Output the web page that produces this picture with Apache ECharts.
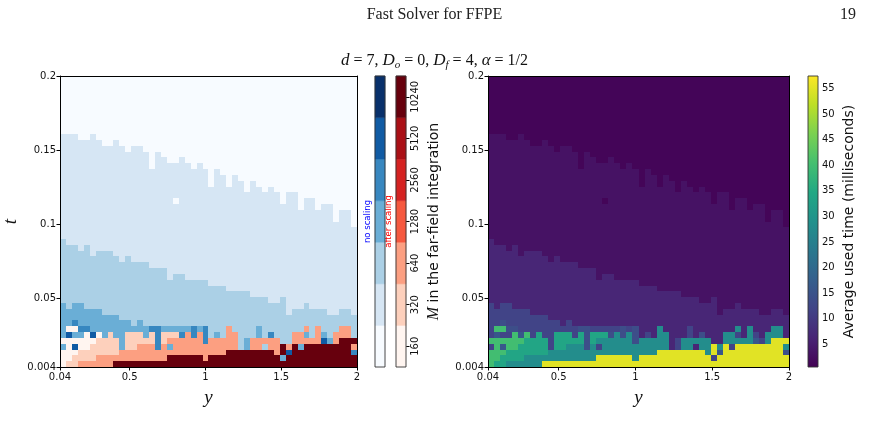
<!DOCTYPE html>
<html>
<head>
<meta charset="utf-8">
<script src="https://cdn.jsdelivr.net/npm/echarts@6/dist/echarts.min.js"></script>
<style>
  html, body { margin: 0; padding: 0; background: #fff; }
  #main { width: 869px; height: 436px; }
</style>
</head>
<body>
<div id="main"></div>
<script>
// axes: y (horizontal) and t (vertical)
var yRange = [0.04, 2];
var tRange = [0.004, 0.2];
var yTicks = [0.04, 0.5, 1, 1.5, 2];
var tTicks = [0.004, 0.05, 0.1, 0.15, 0.2];
var nCols = 50, nRows = 50;

// M levels of the two discrete colorbars
var mLevels = [160, 320, 640, 1280, 2560, 5120, 10240];
var blues = ['#f7fbff', '#d6e6f4', '#abd0e6', '#6aaed6', '#3787c0', '#105ba4', '#08306b'];
var reds = ['#fff5f0', '#fdd0bc', '#fc9f81', '#f6583e', '#d52221', '#aa1016', '#67000d'];

// time colorbar
var timeTicks = [5, 10, 15, 20, 25, 30, 35, 40, 45, 50, 55];
var timeRange = [0.5, 57.5];
var viridis = ['#440154', '#482475', '#414487', '#355f8d', '#2a788e', '#21918c',
  '#22a884', '#44bf70', '#7ad151', '#bddf26', '#fde725'];

// codes: a..g = no scaling 160..10240, A..G = after scaling 160..10240
// first row (from bottom) of each band, per column
var b1Top = [40, 40, 40, 39, 39, 40, 39, 38, 38, 39, 38, 37, 38, 38, 37, 34, 37, 36, 35, 35,
  36, 35, 34, 35, 34, 31, 34, 33, 31, 33, 32, 30, 32, 31, 30, 31, 30, 28, 30, 30,
  27, 29, 29, 27, 28, 28, 25, 27, 27, 24];
var b2Top = [22, 21, 21, 20, 21, 19, 20, 20, 20, 19, 18, 19, 18, 18, 18, 17, 17, 17, 15, 16,
  16, 15, 15, 15, 15, 14, 14, 14, 13, 13, 13, 13, 12, 12, 12, 11, 11, 12, 9, 10,
  10, 11, 10, 10, 10, 9, 9, 10, 10, 9];
var b3Top = [11, 10, 11, 11, 10, 10, 10, 9, 9, 9, 8, 8, 7, 8, 0, 0, 0, 0, 0, 0,
  0, 0, 0, 0, 0, 0, 0, 0, 0, 0, 0, 0, 0, 0, 0, 0, 0, 0, 0, 0,
  0, 0, 0, 0, 0, 0, 0, 0, 0, 0];
// bottom rows, row 6 first, row 0 last
var bottomRows = [
  'dAAeeddddd dddddeeddd ddedecccCc cccdcccccc cCcCcccCCc',
  'dfddAfAdBd dBBBdBeBBB eCeCecdcCC cccdcecccC CdcCdcCCCc',
  'AAAAAABBBB dBBBBBeBCC CCCCeCCCCC cdCCCCCccC CCCCfdCGGG',
  'dAfAABBBBB dBBCCCeCdC CCCCCCCCCC cdCCcCCGCG dGGGGGGGGC',
  'AAABBBBBBB CCCCCCCCCC CCCCCCCCGG GGGGGGCGfG GGGGGGGGGe',
  'AABBBBCCCC CCCCCCCCGG GGGGCGGGGG GGGGGGGdGG GGGGGGGGGG',
  'ABBCCCCCCG GGGGGGGGGG GGGGGGGGGG GGGGGGGGGG GGGGGGGGGG'
];
// single cells [row, col, code]
var singleCells = [[28, 19, 'a'], [7, 2, 'e']];

// average time (ms) read for each code
var msPerCode = { a: 1.2, b: 3.2, c: 6.5, d: 12, e: 14, f: 16, A: 40, B: 34, C: 28, G: 55 };
var msOverrides = [];

var rows = bottomRows.map(function (s) { return s.replace(/ /g, ''); }).reverse();

function codeAt(r, c) {
  for (var k = 0; k < singleCells.length; k++) {
    if (singleCells[k][0] === r && singleCells[k][1] === c) return singleCells[k][2];
  }
  if (r < rows.length) return rows[r].charAt(c);
  if (r >= b1Top[c]) return 'a';
  if (r >= b2Top[c]) return 'b';
  if (r >= b3Top[c]) return 'c';
  return 'd';
}

function levelColor(code) {
  var lo = code.charCodeAt(0) - 97;
  if (lo >= 0) return blues[lo];
  return reds[code.charCodeAt(0) - 65];
}

function hexToRgb(h) {
  return [parseInt(h.substr(1, 2), 16), parseInt(h.substr(3, 2), 16), parseInt(h.substr(5, 2), 16)];
}
function viridisAt(f) {
  f = Math.max(0, Math.min(1, f)) * (viridis.length - 1);
  var i = Math.min(Math.floor(f), viridis.length - 2), u = f - i;
  var a = hexToRgb(viridis[i]), b = hexToRgb(viridis[i + 1]);
  return 'rgb(' + a.map(function (v, k) { return Math.round(v + (b[k] - v) * u); }).join(',') + ')';
}

var leftData = [], leftColors = [], rightData = [], rightColors = [];
for (var r = 0; r < nRows; r++) {
  for (var c = 0; c < nCols; c++) {
    var code = codeAt(r, c);
    leftData.push([c, r]);
    leftColors.push(levelColor(code));
    var ms = msPerCode[code];
    msOverrides.forEach(function (o) { if (o[0] === r && o[1] === c) ms = o[2]; });
    rightData.push([c, r, ms]);
    rightColors.push(viridisAt((ms - timeRange[0]) / (timeRange[1] - timeRange[0])));
  }
}

var cellW = (yRange[1] - yRange[0]) / nCols;
var cellH = (tRange[1] - tRange[0]) / nRows;

// cells snapped to whole pixels so that no seams show
function cellRender(colors) {
  return function (params, api) {
    var c = api.value(0), r = api.value(1);
    var p0 = api.coord([yRange[0] + c * cellW, tRange[0] + (r + 1) * cellH]);
    var p1 = api.coord([yRange[0] + (c + 1) * cellW, tRange[0] + r * cellH]);
    var x0 = Math.round(p0[0]), y0 = Math.round(p0[1]);
    var x1 = Math.round(p1[0]), y1 = Math.round(p1[1]);
    return {
      type: 'rect',
      shape: { x: x0, y: y0, width: x1 - x0, height: y1 - y0 },
      style: { fill: colors[params.dataIndex] }
    };
  };
}

var tickFont = { fontFamily: 'DejaVu Sans', fontSize: 10, color: '#111' };
var mathName = { fontFamily: 'Liberation Serif', fontStyle: 'italic', fontSize: 19, color: '#111' };

function heatX(grid) {
  return [{
    gridIndex: grid, type: 'value', min: yRange[0], max: yRange[1], position: 'bottom', z: 10,
    axisLine: { show: true, onZero: false, lineStyle: { color: '#000', width: 1 } },
    axisTick: { show: true, customValues: yTicks, length: 3.5, lineStyle: { color: '#000' } },
    axisLabel: Object.assign({ customValues: yTicks, margin: 5, formatter: function (v) { return String(v); } }, tickFont),
    splitLine: { show: false },
    name: 'y', nameLocation: 'middle', nameGap: 21, nameTextStyle: mathName
  }, {
    gridIndex: grid, type: 'value', min: yRange[0], max: yRange[1], position: 'top', z: 10,
    axisLine: { show: true, onZero: false, lineStyle: { color: '#000', width: 1 } },
    axisTick: { show: false }, axisLabel: { show: false }, splitLine: { show: false }
  }];
}
function heatY(grid, withName) {
  return [{
    gridIndex: grid, type: 'value', min: tRange[0], max: tRange[1], position: 'left', z: 10,
    axisLine: { show: true, onZero: false, lineStyle: { color: '#000', width: 1 } },
    axisTick: { show: true, customValues: tTicks, length: 3.5, lineStyle: { color: '#000' } },
    axisLabel: Object.assign({ customValues: tTicks, margin: 4, formatter: function (v) { return String(v); } }, tickFont),
    splitLine: { show: false },
    name: withName ? 't' : '', nameLocation: 'middle', nameRotate: 90, nameGap: 40, nameTextStyle: mathName
  }, {
    gridIndex: grid, type: 'value', min: tRange[0], max: tRange[1], position: 'right', z: 10,
    axisLine: { show: true, onZero: false, lineStyle: { color: '#000', width: 1 } },
    axisTick: { show: false }, axisLabel: { show: false }, splitLine: { show: false }
  }];
}
function hiddenX(grid) {
  return { gridIndex: grid, type: 'value', min: 0, max: 1, show: false };
}
function barRender(palette) {
  return function (params, api) {
    var i = api.value(0);
    var p0 = api.coord([0, i + 1]);
    var p1 = api.coord([1, i]);
    return {
      type: 'rect',
      shape: { x: p0[0], y: p0[1], width: p1[0] - p0[0], height: p1[1] - p0[1] },
      style: { fill: palette[i], stroke: palette[i], lineWidth: 0.5 }
    };
  };
}
function outlineRender(lo, hi, fill) {
  return function (params, api) {
    var p0 = api.coord([0, hi]);
    var p1 = api.coord([1, lo]);
    return {
      type: 'rect',
      shape: { x: p0[0], y: p0[1], width: p1[0] - p0[0], height: p1[1] - p0[1] },
      style: { fill: fill || 'none', stroke: '#333', lineWidth: 0.9 }
    };
  };
}

var levelIdx = mLevels.map(function (m, i) { return [i]; });
var viridisGrad = new echarts.graphic.LinearGradient(0, 1, 0, 0,
  viridis.map(function (col, i) { return { offset: i / (viridis.length - 1), color: col }; }));

var chart = echarts.init(document.getElementById('main'));
chart.setOption({
  backgroundColor: '#fff',
  animation: false,
  textStyle: { fontFamily: 'DejaVu Sans' },
  title: [
    { text: 'Fast Solver for FFPE', left: 'center', top: 2,
      textStyle: { fontFamily: 'Liberation Serif', fontSize: 16, fontWeight: 'normal', color: '#222' } },
    { text: '19', right: 8, top: 2,
      textStyle: { fontFamily: 'Liberation Serif', fontSize: 16, fontWeight: 'normal', color: '#222' } },
    { text: '{i|d} = 7, {i|D}{s|o} = 0, {i|D}{s|f} = 4, {i|α} = 1/2', left: 'center', top: 46,
      textStyle: {
        fontFamily: 'Liberation Serif', fontSize: 16, fontWeight: 'normal', color: '#111',
        rich: {
          i: { fontFamily: 'Liberation Serif', fontStyle: 'italic', fontSize: 17, color: '#111' },
          s: { fontFamily: 'Liberation Serif', fontStyle: 'italic', fontSize: 11, color: '#111', padding: [9, 0, 0, 0] }
        }
      } }
  ],
  grid: [
    { left: 57, top: 76, width: 300, height: 291 },
    { left: 375, top: 76, width: 10, height: 291 },
    { left: 396, top: 76, width: 10, height: 291 },
    { left: 488, top: 76, width: 301, height: 291 },
    { left: 808, top: 76, width: 10, height: 291 }
  ],
  // x axes: 0,1 left map; 2 blue bar; 3 red bar; 4,5 right map; 6 time bar
  xAxis: heatX(0).concat([hiddenX(1), hiddenX(2)], heatX(3), [hiddenX(4)]),
  // y axes: 0,1 left map; 2 blue bar; 3,4 red bar; 5,6 right map; 7 time bar
  yAxis: heatY(0, true).concat([
    { gridIndex: 1, type: 'value', min: 0, max: 7, position: 'left',
      axisLine: { show: false }, axisTick: { show: false }, axisLabel: { show: false }, splitLine: { show: false },
      name: 'no scaling', nameLocation: 'middle', nameRotate: 90, nameGap: 3,
      nameTextStyle: { color: '#0000ff', fontSize: 8.5, fontFamily: 'DejaVu Sans' } },
    { gridIndex: 2, type: 'value', min: 0, max: 7, position: 'left',
      axisLine: { show: false }, axisTick: { show: false }, axisLabel: { show: false }, splitLine: { show: false },
      name: 'after scaling', nameLocation: 'middle', nameRotate: 90, nameGap: 3,
      nameTextStyle: { color: '#ff0000', fontSize: 8.5, fontFamily: 'DejaVu Sans' } },
    { gridIndex: 2, type: 'value', min: 0, max: 7, position: 'right',
      axisLine: { show: false },
      axisTick: { show: true, customValues: [0.5, 1.5, 2.5, 3.5, 4.5, 5.5, 6.5], length: 3.5, lineStyle: { color: '#000' } },
      axisLabel: Object.assign({ customValues: [0.5, 1.5, 2.5, 3.5, 4.5, 5.5, 6.5], rotate: 90, margin: 4,
        formatter: function (v) { return String(mLevels[Math.floor(v)]); } }, tickFont),
      splitLine: { show: false },
      name: '{m|M} in the far-field integration', nameLocation: 'middle', nameRotate: 90, nameGap: 20,
      nameTextStyle: { fontFamily: 'DejaVu Sans', fontSize: 14, color: '#111',
        rich: { m: { fontFamily: 'Liberation Serif', fontStyle: 'italic', fontSize: 16, color: '#111' } } } }
  ], heatY(3, false), [
    { gridIndex: 4, type: 'value', min: timeRange[0], max: timeRange[1], position: 'right',
      axisLine: { show: false },
      axisTick: { show: true, customValues: timeTicks, length: 3.5, lineStyle: { color: '#000' } },
      axisLabel: Object.assign({ customValues: timeTicks, margin: 4 }, tickFont),
      splitLine: { show: false },
      name: 'Average used time (milliseconds)', nameLocation: 'middle', nameRotate: 90, nameGap: 24,
      nameTextStyle: { fontFamily: 'DejaVu Sans', fontSize: 14, color: '#111' } }
  ]),
  series: [
    { type: 'custom', xAxisIndex: 0, yAxisIndex: 0, data: leftData, renderItem: cellRender(leftColors), silent: true },
    { type: 'custom', xAxisIndex: 4, yAxisIndex: 5, data: rightData, renderItem: cellRender(rightColors), silent: true },
    { type: 'custom', xAxisIndex: 2, yAxisIndex: 2, data: levelIdx, renderItem: barRender(blues), silent: true },
    { type: 'custom', xAxisIndex: 2, yAxisIndex: 2, data: [[0]], renderItem: outlineRender(0, 7), silent: true, z: 5 },
    { type: 'custom', xAxisIndex: 3, yAxisIndex: 3, data: levelIdx, renderItem: barRender(reds), silent: true },
    { type: 'custom', xAxisIndex: 3, yAxisIndex: 3, data: [[0]], renderItem: outlineRender(0, 7), silent: true, z: 5 },
    { type: 'custom', xAxisIndex: 6, yAxisIndex: 7, data: [[0]],
      renderItem: outlineRender(timeRange[0], timeRange[1], viridisGrad), silent: true }
  ]
});
</script>
</body>
</html>
